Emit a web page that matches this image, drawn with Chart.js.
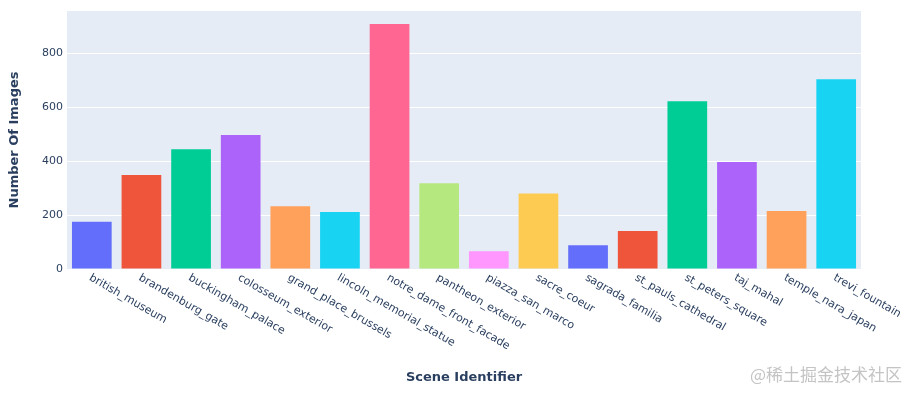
<!DOCTYPE html>
<html>
<head>
<meta charset="utf-8">
<script src="https://cdn.jsdelivr.net/npm/chart.js@4.4.1/dist/chart.umd.min.js"></script>
<style>
  html, body { margin: 0; padding: 0; background: #fff; }
  #wrap { width: 916px; height: 397px; position: relative; }
</style>
</head>
<body>
<div id="wrap"><canvas id="chart"></canvas></div>
<script>
// Scene counts
const scenes = [
    'british_museum', 'brandenburg_gate', 'buckingham_palace', 'colosseum_exterior',
    'grand_place_brussels', 'lincoln_memorial_statue', 'notre_dame_front_facade',
    'pantheon_exterior', 'piazza_san_marco', 'sacre_coeur', 'sagrada_familia',
    'st_pauls_cathedral', 'st_peters_square', 'taj_mahal', 'temple_nara_japan', 'trevi_fountain',
];
const imageCounts = [175, 349, 445, 498, 233, 212, 910, 318, 66, 280, 88, 141, 623, 397, 215, 705];
const yTicks = [0, 200, 400, 600, 800];

// plotly default colorway, cycled over the bars
const palette = ['#636efa', '#EF553B', '#00cc96', '#ab63fa', '#FFA15A', '#19d3f3', '#FF6692', '#B6E880', '#FF97FF', '#FECB52'];
const barColors = scenes.map((_, i) => palette[i % palette.length]);

const FONT = '"DejaVu Sans", Verdana, sans-serif';
const INK = '#2a3f5f';

// plot background + slanted category labels + watermark
const plotlyLook = {
    id: 'plotlyLook',
    beforeDraw(chart) {
        const { ctx, chartArea: a } = chart;
        ctx.save();
        ctx.fillStyle = '#E5ECF6';
        ctx.fillRect(a.left, a.top, a.right - a.left, a.bottom - a.top);
        ctx.restore();
    },
    afterDraw(chart) {
        const { ctx } = chart;
        const xs = chart.scales.x;
        ctx.save();
        ctx.font = '11px ' + FONT;
        ctx.fillStyle = INK;
        ctx.textAlign = 'left';
        ctx.textBaseline = 'middle';
        scenes.forEach((name, i) => {
            const x = xs.getPixelForValue(i);
            ctx.save();
            ctx.translate(x - 2, xs.top + 8);
            ctx.rotate(Math.PI / 6);
            ctx.fillText(name, 0, 0);
            ctx.restore();
        });
        ctx.font = '17px "Noto Sans CJK SC", sans-serif';
        ctx.fillStyle = '#c4c4c4';
        ctx.textAlign = 'right';
        ctx.fillText('@稀土掘金技术社区', 902, 375);
        ctx.restore();
    },
};

new Chart(document.getElementById('chart'), {
    type: 'bar',
    data: {
        labels: scenes,
        datasets: [{
            data: imageCounts,
            backgroundColor: barColors,
            barPercentage: 0.8,
            categoryPercentage: 1.0,
        }],
    },
    options: {
        responsive: true,
        maintainAspectRatio: false,
        animation: false,
        layout: { padding: { top: 11, right: 55, left: 0, bottom: 0 } },
        plugins: { legend: { display: false }, tooltip: { enabled: false } },
        scales: {
            x: {
                grid: { display: false },
                border: { display: false },
                ticks: { display: false },
                title: {
                    display: true,
                    text: 'Scene Identifier',
                    color: INK,
                    font: { family: FONT, size: 13, weight: 'bold' },
                    padding: { top: 0, bottom: 12 },
                },
                afterFit(scale) { scale.height = 128; },
            },
            y: {
                min: 0,
                max: 958,
                grid: { color: '#ffffff', lineWidth: 1, drawTicks: false },
                border: { display: false },
                ticks: {
                    stepSize: 200,
                    color: INK,
                    padding: 4,
                    font: { family: FONT, size: 11 },
                },
                afterBuildTicks(scale) {
                    scale.ticks = yTicks.map(v => ({ value: v }));
                },
                title: {
                    display: true,
                    text: 'Number Of Images',
                    color: INK,
                    font: { family: FONT, size: 13, weight: 'bold' },
                    padding: { top: 7, bottom: 0 },
                },
                afterFit(scale) { scale.width = 67; },
            },
        },
    },
    plugins: [plotlyLook],
});
</script>
</body>
</html>
